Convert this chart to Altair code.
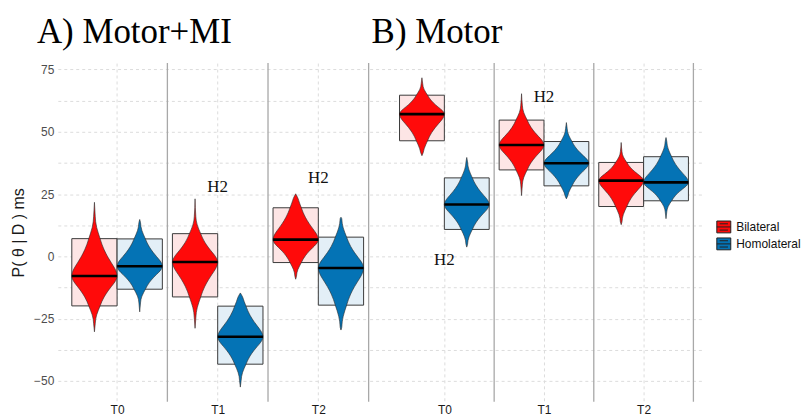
import json
import altair as alt
import pandas as pd

# ---------------- data ----------------
panels = ["A) Motor+MI", "B) Motor"]
times = ["T0", "T1", "T2"]
groups = ["Bilateral", "Homolateral"]

# order: panel A (T0 Bil, T0 Hom, T1 Bil, T1 Hom, T2 Bil, T2 Hom), then panel B
median   = [-7.9, -4.0, -2.3, -32.3, 6.7, -4.7, 57.1, 20.8, 44.7, 37.4, 30.4, 29.7]
box_low  = [-19.9, -13.2, -16.3, -43.3, -2.5, -19.6, 46.4, 10.8, 34.7, 28.3, 20.0, 22.3]
box_high = [7.1, 7.0, 9.1, -20.0, 19.5, 7.7, 64.7, 31.5, 54.7, 46.1, 37.7, 40.0]
tip_low  = [-30.3, -22.3, -28.9, -52.5, -9.2, -29.6, 40.4, 3.7, 24.4, 23.1, 12.7, 15.1]
tip_high = [21.7, 14.8, 23.1, -14.7, 25.1, 15.7, 71.7, 39.7, 65.3, 53.7, 45.7, 47.7]

# violin outline: distance from the median (relative to the
# box edge on that side) -> relative half width
shape_dist  = [0.0, 0.1, 0.2, 0.35, 0.5, 0.7, 0.85, 1.0, 1.15, 1.3, 1.45, 1.6]
shape_width = [1.0, 0.97, 0.9, 0.75, 0.6, 0.43, 0.33, 0.25, 0.17, 0.1, 0.055, 0.035]

notes_panel = ["A) Motor+MI", "A) Motor+MI", "B) Motor", "B) Motor"]
notes_time = ["T1", "T2", "T0", "T1"]
notes_y = [28.0, 31.4, -1.6, 64.0]
notes_text = ["H2", "H2", "H2", "H2"]

y_ticks = [-50, -37.5, -25, -12.5, 0, 12.5, 25, 37.5, 50, 62.5, 75]
y_title = "P( θ | D ) ms"

# ---------------- styles ----------------
RED, BLUE = "#FF0A0A", "#0473B5"
RED_BOX, BLUE_BOX = "#FDE5E5", "#E3EFF7"
BOX_W = 0.45          # width of a box, in facet units
Y_DOMAIN = [-58.4, 77.6]
SERIF = "Liberation Serif"
SANS = "Liberation Sans"

# ---------------- tables ----------------
rows_box, rows_v = [], []
k = 0
for p in panels:
    for ti, t in enumerate(times):
        c = ti + 0.5
        for gi, g in enumerate(groups):
            x0 = c - BOX_W if gi == 0 else c
            x1 = x0 + BOX_W
            vc = (x0 + x1) / 2
            hw = BOX_W / 2
            m = median[k]
            rows_box.append(dict(panel=p, time=t, group=g, x0=x0, x1=x1,
                                 lo=box_low[k], hi=box_high[k], med=m))
            pts = {}
            for edge, tip in ((box_high[k], tip_high[k]), (box_low[k], tip_low[k])):
                span = edge - m
                for d, w in zip(shape_dist, shape_width):
                    yv = m + d * span
                    if abs(yv - m) < abs(tip - m):
                        pts[round(yv, 4)] = w
                pts[round(tip, 4)] = 0.0
            for yv in sorted(pts):
                w = pts[yv]
                rows_v.append(dict(panel=p, group=g, vid=f"{p}-{t}-{g}", y=yv,
                                   xl=vc - hw * w, xr=vc + hw * w))
            k += 1

box_df = pd.DataFrame(rows_box)
vio_df = pd.DataFrame(rows_v)
sep_df = pd.DataFrame({"x": [i + 1 for i in range(len(times))]})
note_df = pd.DataFrame({"panel": notes_panel,
                        "x": [times.index(t) + 0.5 for t in notes_time],
                        "y": notes_y, "text": notes_text})

label_expr = json.dumps(times) + "[floor(datum.value)]"


def panel_chart(p, domain, width, first, dx):
    x_axis = alt.Axis(values=[i + 0.5 for i in range(len(times))], labelExpr=label_expr,
                      grid=True, gridDash=[3, 3], gridColor="#DCDCDC", gridWidth=1,
                      ticks=False, domain=False, title=None, labelFont=SANS,
                      labelFontSize=12, labelColor="#1A1A1A", labelPadding=3)
    if first:
        y_axis = alt.Axis(values=y_ticks, labelExpr="datum.value % 25 == 0 ? datum.label : ''",
                          grid=True, gridDash=[3, 3], gridColor="#DCDCDC", gridWidth=1,
                          ticks=False, domain=False, title=y_title, titleFont=SANS,
                          titleFontSize=16, titleFontWeight="normal", titleColor="#1A1A1A",
                          titlePadding=7, labelFont=SANS, labelFontSize=12,
                          labelColor="#4D4D4D", labelPadding=4)
    else:
        y_axis = alt.Axis(values=y_ticks, labels=False, grid=True, gridDash=[3, 3],
                          gridColor="#DCDCDC", gridWidth=1, ticks=False, domain=False,
                          title=None)
    xs = alt.Scale(domain=domain, nice=False, zero=False)
    ys = alt.Scale(domain=Y_DOMAIN, nice=False, zero=False)

    def X(f):
        return alt.X(f, type="quantitative", scale=xs, axis=x_axis)

    def Y(f):
        return alt.Y(f, type="quantitative", scale=ys, axis=y_axis)

    seps = alt.Chart(sep_df).mark_rule(color="#A8A8A8", strokeWidth=1.3).encode(x=X("x"))
    bx = box_df[box_df.panel == p]
    boxes = alt.Chart(bx).mark_rect(stroke="#3A3A3A", strokeWidth=1).encode(
        x=X("x0"), x2="x1", y=Y("lo"), y2="hi",
        fill=alt.condition(f"datum.group == '{groups[0]}'", alt.value(RED_BOX), alt.value(BLUE_BOX)))
    vio = alt.Chart(vio_df[vio_df.panel == p]).mark_area(
        orient="horizontal", interpolate="monotone", stroke="#2A2A2A", strokeWidth=0.6,
        opacity=1).encode(
        y=Y("y"), x=X("xl"), x2="xr", detail="vid:N",
        color=alt.Color("group:N", scale=alt.Scale(domain=groups, range=[RED, BLUE]),
                        legend=alt.Legend(title=None) if first else None))
    meds = alt.Chart(bx).mark_rule(color="black", strokeWidth=2.6).encode(
        x=X("x0"), x2="x1", y=Y("med"))
    notes = alt.Chart(note_df[note_df.panel == p]).mark_text(
        font=SERIF, fontSize=17, color="#111111", baseline="middle", align="center").encode(
        x=X("x"), y=Y("y"), text="text:N")
    return alt.layer(seps, boxes, vio, meds, notes).properties(
        width=width, height=340,
        title=alt.TitleParams(text=p, anchor="start", frame="group", font=SERIF,
                              fontSize=35, fontWeight="normal", color="black",
                              dx=dx, offset=12.5))


a = panel_chart(panels[0], [-0.089, 3.0], 312, True, -21)
b = panel_chart(panels[1], [-0.25, 3.11], 336, False, 2)

legend_path = "M-1,-0.85H1V0.85H-1Z M-1,0H1 M-0.6,-0.45H0.6 M-0.6,0.45H0.6"

chart = alt.hconcat(a, b, spacing=0).resolve_scale(x="independent").properties(
    padding={"left": 2, "top": 5.5, "right": 0, "bottom": 0},
    background="white"
).configure_view(stroke=None).configure_legend(
    orient="none", legendX=661, legendY=157, padding=0, symbolType=legend_path,
    symbolSize=196, symbolStrokeColor="#222222", symbolStrokeWidth=1, symbolOpacity=1,
    labelFont=SANS, labelFontSize=12, labelColor="#111111", labelOffset=5, rowPadding=0
)

chart.save("out.html", embed_options={"renderer": "svg", "actions": False})
